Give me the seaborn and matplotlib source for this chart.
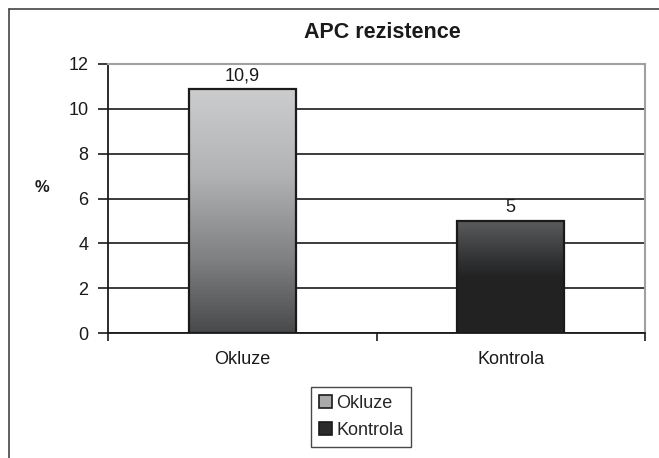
import numpy as np
import pandas as pd
import seaborn as sns
import matplotlib.pyplot as plt
from matplotlib.colors import LinearSegmentedColormap
from matplotlib.patches import Patch
from matplotlib.lines import Line2D

# data
categories = ["Okluze", "Kontrola"]
values = [10.9, 5]
value_labels = ["10,9", "5"]
yticks = [0, 2, 4, 6, 8, 10, 12]

# gradient stops per bar (position from bottom, colour)
gradients = [
    [(0.0, "#48494b"), (0.3, "#7f8082"), (0.65, "#b2b3b5"), (1.0, "#cccdcf")],
    [(0.0, "#222222"), (0.5, "#232323"), (0.62, "#2e2f30"), (1.0, "#5a5c5e")],
]
legend_colors = ["#a9aaac", "#2b2b2b"]

sns.set_style("white")
plt.rcParams['font.family'] = ['Liberation Sans', 'DejaVu Sans']

W, H = 659, 458
fig = plt.figure(figsize=(W / 100, H / 100), dpi=100)
ax = fig.add_axes([108 / W, 1 - 333 / H, 537 / W, 269 / H])

df = pd.DataFrame({"skupina": categories, "procento": values})
sns.barplot(data=df, x="skupina", y="procento", hue="skupina", palette=legend_colors,
            ax=ax, width=0.4, legend=False, edgecolor="#1a1a1a", linewidth=1.6)

# gradient fill clipped to each bar
for patch, stops in zip(ax.patches, gradients):
    x0, w, h = patch.get_x(), patch.get_width(), patch.get_height()
    cmap = LinearSegmentedColormap.from_list("g", stops)
    grad = np.linspace(1, 0, 256).reshape(-1, 1)
    im = ax.imshow(grad, cmap=cmap, vmin=0, vmax=1, extent=[x0, x0 + w, 0, h],
                   aspect="auto", zorder=2.5, interpolation="bilinear")
    im.set_clip_path(patch)
    patch.set_facecolor("none")
    patch.set_zorder(3)

ax.set_xlim(-0.5, 1.5)
ax.set_ylim(0, 12)
ax.set_yticks(yticks)
ax.set_yticklabels([str(t) for t in yticks])
ax.set_xticks([-0.5, 0.5, 1.5])
ax.set_xticklabels(["", "", ""])
ax.set_xticks([0, 1], minor=True)
ax.set_xticklabels(categories, minor=True)
ax.tick_params(axis="x", which="major", direction="out", length=6, width=1.2, color="#1a1a1a", bottom=True)
ax.tick_params(axis="x", which="minor", length=0, pad=13, labelsize=13, labelcolor="#1a1a1a")
ax.tick_params(axis="y", direction="out", length=7, width=1.2, color="#1a1a1a", pad=7,
               labelsize=13, labelcolor="#1a1a1a", left=True)
ax.set_xlabel("")
ax.set_ylabel("")

ax.yaxis.grid(True, color="#1a1a1a", linewidth=1.2)
ax.set_axisbelow(True)
ax.get_ygridlines()[-1].set_color("#a0a0a0")

for side in ["left", "bottom"]:
    ax.spines[side].set_color("#1a1a1a")
    ax.spines[side].set_linewidth(1.3)
for side in ["top", "right"]:
    ax.spines[side].set_color("#a0a0a0")
    ax.spines[side].set_linewidth(1.5)

# value labels
for patch, lab in zip(ax.patches, value_labels):
    ax.text(patch.get_x() + patch.get_width() / 2, patch.get_height() + 0.2, lab,
            ha="center", va="bottom", fontsize=13, color="#1a1a1a")

fig.text(382 / W, 1 - 33 / H, "APC rezistence", ha="center", va="center",
         fontsize=15.5, fontweight="bold", color="#1a1a1a")
fig.text(42 / W, 1 - 187 / H, "%", ha="center", va="center",
         fontsize=12, fontweight="bold", color="#1a1a1a")

handles = [Patch(facecolor=c, edgecolor="#1a1a1a", linewidth=1.2) for c in legend_colors]
leg = fig.legend(handles, categories, loc="center", bbox_to_anchor=(361 / W, 1 - 417 / H),
                 frameon=True, fancybox=False, fontsize=13, handlelength=0.7, handleheight=0.7,
                 handletextpad=0.25, labelspacing=0.55, borderpad=0.45, borderaxespad=0)
leg.get_frame().set_edgecolor("#1a1a1a")
leg.get_frame().set_linewidth(1.0)

# outer chart frame
fig.add_artist(Line2D([8.5 / W, 8.5 / W], [0, 1 - 9 / H], color="#444444", lw=1.2))
fig.add_artist(Line2D([8.5 / W, 1], [1 - 9 / H, 1 - 9 / H], color="#444444", lw=1.2))

fig.savefig("out.png", dpi=100)
